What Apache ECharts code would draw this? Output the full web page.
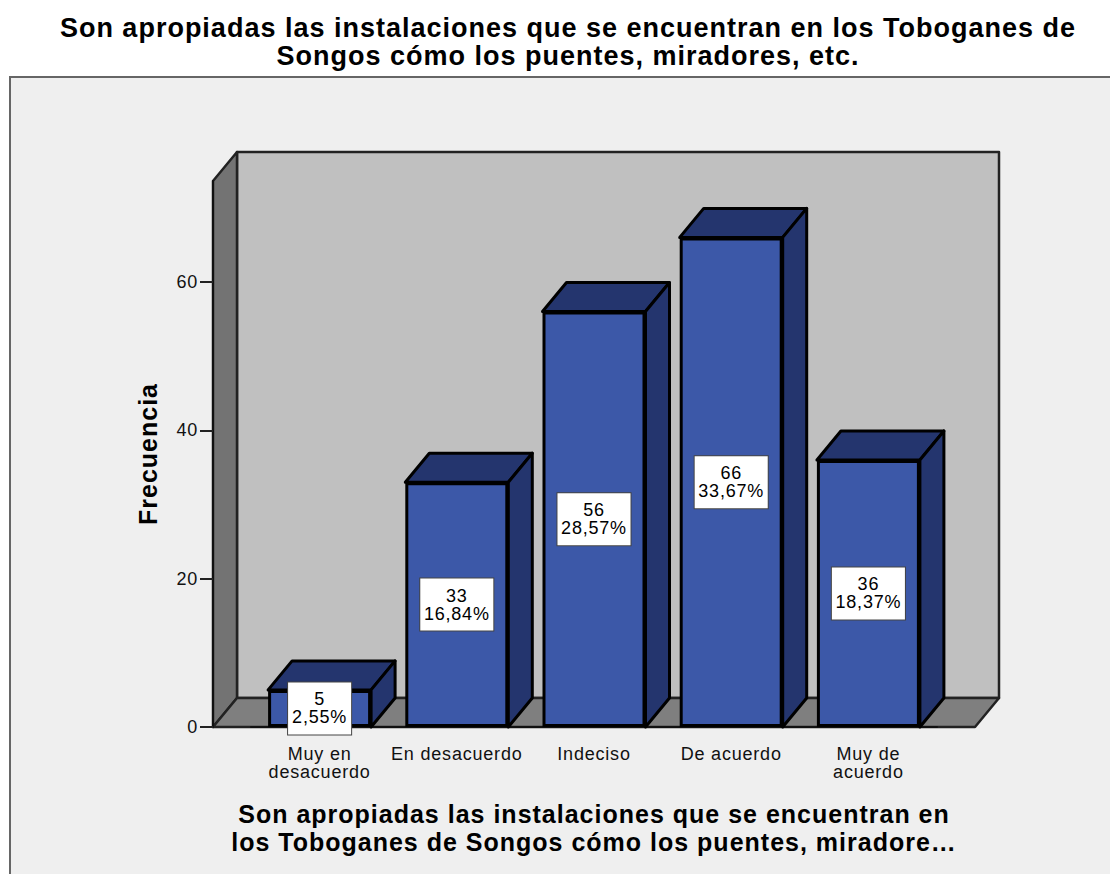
<!DOCTYPE html>
<html>
<head>
<meta charset="utf-8">
<style>
    html, body { margin: 0; padding: 0; background: #ffffff; }
    #chart { width: 1110px; height: 874px; overflow: hidden; }
    /* el original tiene el texto mas espaciado */
    #chart text { letter-spacing: 0.8px; }
    #chart text[style*="bold"] { letter-spacing: 1px; }
</style>
<script src="https://cdn.jsdelivr.net/npm/echarts@6/dist/echarts.min.js"></script>
</head>
<body>
<div id="chart"></div>
<script>
    var categories = ['Muy en\ndesacuerdo', 'En desacuerdo', 'Indeciso', 'De acuerdo', 'Muy de\nacuerdo'];
    var frecuencia = [5, 33, 56, 66, 36];
    var porcentaje = ['2,55%', '16,84%', '28,57%', '33,67%', '18,37%'];
    var yTicks = [0, 20, 40, 60];
    var yTop = 73.6;

    var titleText = 'Son apropiadas las instalaciones que se encuentran en los Toboganes de\nSongos cómo los puentes, miradores, etc.';
    var xName = 'Son apropiadas las instalaciones que se encuentran en\nlos Toboganes de Songos cómo los puentes, miradore…';

    var fontName = '"Liberation Sans", Arial, sans-serif';
    // profundidad del efecto 3D
    var depthX = 24;
    var depthY = -29;
    var barWidth = 103;
    var wallOverhang = 38;

    var chart = echarts.init(document.getElementById('chart'), null, { renderer: 'svg' });

    // paredes y suelo
    function renderFrame(params, api) {
        var origin = api.coord([0, 0]);
        var top = api.coord([0, yTop]);
        var band = api.size([1, 0])[0];
        var left = origin[0] - band / 2 - wallOverhang;
        var right = origin[0] + band * 4.5 + wallOverhang;
        var bottom = origin[1];
        function poly(points, fill) {
            return {
                type: 'polygon',
                shape: { points: points },
                style: { fill: fill, stroke: '#222222', lineWidth: 2.5, lineJoin: 'round' }
            };
        }
        return {
            type: 'group',
            children: [
                poly([[left + depthX, top[1] + depthY], [right + depthX, top[1] + depthY], [right + depthX, bottom + depthY], [left + depthX, bottom + depthY]], '#c0c0c0'),
                poly([[left, top[1]], [left + depthX, top[1] + depthY], [left + depthX, bottom + depthY], [left, bottom]], '#737373'),
                poly([[left, bottom], [left + depthX, bottom + depthY], [right + depthX, bottom + depthY], [right, bottom]], '#7f7f7f')
            ]
        };
    }

    // cara superior y lateral de cada barra
    function renderBarSides(params, api) {
        var p = api.coord([api.value(0), api.value(1)]);
        var base = api.coord([api.value(0), 0]);
        var l = p[0] - barWidth / 2;
        var r = p[0] + barWidth / 2;
        var style = { fill: '#24356e', stroke: '#000000', lineWidth: 3, lineJoin: 'round' };
        return {
            type: 'group',
            children: [
                { type: 'polygon', shape: { points: [[l, p[1]], [l + depthX, p[1] + depthY], [r + depthX, p[1] + depthY], [r, p[1]]] }, style: style },
                { type: 'polygon', shape: { points: [[r, p[1]], [r + depthX, p[1] + depthY], [r + depthX, base[1] + depthY], [r, base[1]]] }, style: style }
            ]
        };
    }

    chart.setOption({
        animation: false,
        backgroundColor: '#ffffff',
        title: {
            text: titleText,
            left: 563,
            top: 9,
            textAlign: 'center',
            textStyle: {
                fontFamily: fontName,
                fontSize: 27,
                fontWeight: 'bold',
                lineHeight: 28,
                color: '#000000'
            }
        },
        graphic: [{
            type: 'rect',
            z: -1,
            shape: { x: 10, y: 77, width: 1200, height: 900 },
            style: { fill: '#efefef', stroke: '#666666', lineWidth: 2 }
        }],
        grid: { left: 251, right: 173, top: 181, bottom: 147 },
        xAxis: {
            type: 'category',
            data: categories,
            z: 5,
            name: xName,
            nameLocation: 'middle',
            nameGap: 73,
            nameTextStyle: {
                fontFamily: fontName,
                fontSize: 25,
                fontWeight: 'bold',
                lineHeight: 28,
                color: '#000000'
            },
            axisLine: { lineStyle: { color: '#111111', width: 2 } },
            axisTick: { alignWithLabel: true, length: 12, lineStyle: { color: '#222222', width: 2 } },
            axisLabel: {
                interval: 0,
                margin: 18,
                fontFamily: fontName,
                fontSize: 18,
                lineHeight: 18,
                color: '#111111'
            }
        },
        yAxis: {
            type: 'value',
            min: 0,
            max: yTop,
            offset: wallOverhang,
            z: 5,
            name: 'Frecuencia',
            nameLocation: 'middle',
            nameGap: 53,
            nameTextStyle: {
                fontFamily: fontName,
                fontSize: 25,
                fontWeight: 'bold',
                color: '#000000'
            },
            splitLine: { show: false },
            axisLine: { show: true, lineStyle: { color: '#111111', width: 2 } },
            axisTick: { show: true, length: 13, customValues: yTicks, lineStyle: { color: '#222222', width: 2 } },
            axisLabel: {
                customValues: yTicks,
                margin: 15,
                fontFamily: fontName,
                fontSize: 18,
                color: '#111111'
            }
        },
        series: [
            {
                // paredes
                type: 'custom',
                z: 1,
                silent: true,
                renderItem: renderFrame,
                data: [[0, 0]],
                encode: { x: 0, y: 1 }
            },
            {
                type: 'custom',
                z: 6,
                silent: true,
                renderItem: renderBarSides,
                data: frecuencia.map(function (v, i) { return [i, v]; }),
                encode: { x: 0, y: 1 }
            },
            {
                name: 'Frecuencia',
                type: 'bar',
                z: 7,
                barWidth: barWidth,
                data: frecuencia,
                itemStyle: {
                    color: '#3c58a8',
                    borderColor: '#000000',
                    borderWidth: 3
                },
                label: {
                    show: true,
                    position: 'inside',
                    formatter: function (p) {
                        return p.value + '\n' + porcentaje[p.dataIndex];
                    },
                    fontFamily: fontName,
                    fontSize: 18,
                    lineHeight: 18,
                    color: '#000000',
                    backgroundColor: '#ffffff',
                    borderColor: '#444444',
                    borderWidth: 1,
                    padding: [8, 6, 8, 6],
                    align: 'center'
                }
            }
        ]
    });

    window.onresize = function () {
        chart.resize();
    };
</script>
</body>
</html>
